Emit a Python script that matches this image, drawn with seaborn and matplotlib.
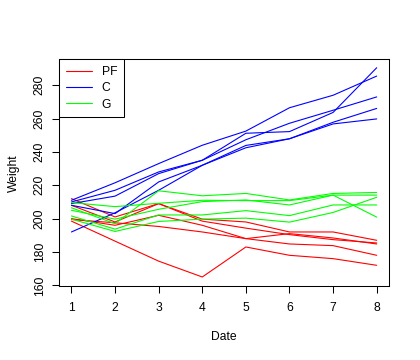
import pandas as pd
import numpy as np
import matplotlib
matplotlib.use("Agg")
import matplotlib.pyplot as plt
from matplotlib.lines import Line2D
import seaborn as sns

# datos
fechas = [1, 2, 3, 4, 5, 6, 7, 8]

peso_pf = [
    [208.0, 198.0, 209.0, 199.7, 198.0, 192.0, 192.0, 187.0],
    [212.0, 201.0, 209.0, 198.5, 194.3, 190.4, 187.4, 185.4],
    [200.0, 196.0, 202.0, 196.0, 188.0, 191.0, 188.4, 184.8],
    [199.5, 197.5, 195.3, 192.0, 188.0, 184.8, 183.8, 178.0],
    [198.5, 186.5, 174.5, 165.0, 183.0, 178.0, 176.0, 172.0],
]

peso_c = [
    [211.0, 221.5, 233.0, 244.0, 252.5, 266.5, 274.0, 285.5],
    [210.0, 217.0, 228.0, 235.0, 251.2, 252.2, 263.7, 290.5],
    [209.0, 213.5, 227.0, 235.0, 247.3, 257.2, 265.0, 273.0],
    [208.0, 203.0, 222.0, 232.0, 243.9, 247.9, 257.8, 266.1],
    [192.0, 203.5, 217.0, 232.0, 242.5, 247.9, 256.8, 259.8],
]

peso_g = [
    [206.5, 197.0, 216.7, 213.7, 215.1, 211.2, 215.1, 215.7],
    [209.6, 207.2, 209.2, 211.0, 210.8, 210.8, 214.1, 214.1],
    [205.0, 199.7, 205.6, 210.2, 211.2, 208.2, 214.1, 200.9],
    [201.6, 193.7, 202.2, 202.2, 204.8, 201.8, 208.2, 208.2],
    [199.7, 192.3, 198.3, 199.7, 200.3, 197.9, 203.7, 212.8],
]

grupos = {"PF": peso_pf, "C": peso_c, "G": peso_g}
colores = {"PF": "#FF0000", "C": "#0000FF", "G": "#00FF00"}

# armado del dataframe largo
filas = []
for grupo, series in grupos.items():
    for i, serie in enumerate(series):
        for fecha, peso in zip(fechas, serie):
            filas.append({"Date": fecha, "Weight": peso, "Group": grupo, "id": f"{grupo}{i}"})
df = pd.DataFrame(filas)

sns.set_style("white")
plt.rcParams["font.family"] = ["Liberation Sans", "DejaVu Sans"]

fig = plt.figure(figsize=(4.2, 3.6), dpi=100)
ax = fig.add_axes([0.141, 0.2056, 0.785, 0.6294])

sns.lineplot(data=df, x="Date", y="Weight", hue="Group", units="id", estimator=None,
             hue_order=["PF", "C", "G"], palette=colores, linewidth=0.8, legend=False, ax=ax)

ax.set_xlim(0.72, 8.28)
ax.set_ylim(159.6, 295.5)
ax.set_xticks(fechas)
ax.set_yticks([160, 180, 200, 220, 240, 260, 280])
for lado in ax.spines.values():
    lado.set_color("black")
    lado.set_linewidth(0.75)

ax.tick_params(axis="both", direction="out", length=5.2, width=0.75, color="black",
               labelsize=8.7, labelcolor="black", bottom=True, left=True)
ax.tick_params(axis="x", pad=6.5)
ax.tick_params(axis="y", pad=4.5)
for t in ax.get_yticklabels():
    t.set_rotation(90)
    t.set_va("center")

ax.set_xlabel("Date", fontsize=8.7, labelpad=12, color="black")
ax.set_ylabel("Weight", fontsize=8.7, labelpad=10, color="black")

# leyenda manual con los colores de cada grupo
handles = [Line2D([], [], color=colores[g], linewidth=0.8) for g in ["PF", "C", "G"]]
leg = ax.legend(handles, ["PF", "C", "G"], loc="upper left", borderaxespad=0, fancybox=False,
                edgecolor="black", fontsize=8.7, handlelength=2.2, handletextpad=0.75,
                labelspacing=0.35, borderpad=0.55, framealpha=1)
leg.get_frame().set_linewidth(0.75)
for t in leg.get_texts():
    t.set_color("black")

fig.savefig("out.png", dpi=100)
